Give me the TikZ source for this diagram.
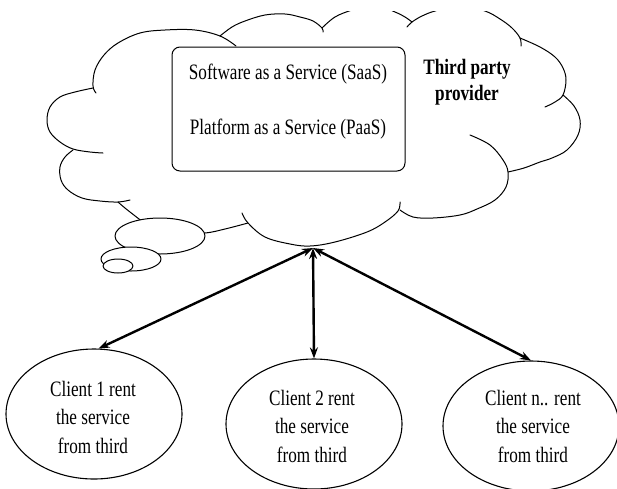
\documentclass[tikz,border=0pt]{standalone}
\usepackage{fontspec}
\setmainfont{Liberation Serif}[FakeStretch=0.78]
\usetikzlibrary{shapes.geometric,arrows.meta}

\begin{document}
\begin{tikzpicture}[x=1pt,y=-1pt,
  outline/.style={line width=1pt, line join=round, line cap=round},
  lobe/.style={outline},
  txt/.style={font=\fontsize{22}{27}\selectfont, inner sep=0pt},
  svcbox/.style={draw, line width=1pt, rounded corners=8pt, fill=white,
    minimum width=233pt, minimum height=124pt, inner sep=0pt},
  client/.style={draw, ellipse, line width=1.1pt, minimum width=176pt,
    minimum height=130pt, inner sep=0pt},
  clienttext/.style={align=center, inner sep=0pt,
    font=\fontsize{22}{28.5}\selectfont},
  link/.style={line width=2.4pt,
    {Stealth[length=11pt,width=8pt]}-{Stealth[length=11pt,width=8pt]}}]

\clip (0,0) rectangle (617,488);

% cloud outline, lobe by lobe
\begin{scope}
\clip (0,11.5) rectangle (617,488);
\draw[lobe] plot[smooth, tension=0.6] coordinates {(96,93) (93,86) (95,70) (104,55) (118,43) (140,33) (165,30) (195,30) (220,36) (236,46)};
\draw[lobe] plot[smooth, tension=0.6] coordinates {(220,36) (232,27) (245,21) (265,15) (285,14) (300,17) (313,21) (322,28) (323,32)};
\draw[lobe] plot[smooth, tension=0.6] coordinates {(322,28) (335,17) (352,10) (373,4) (395,12) (405,17) (412,22)};
\draw[lobe] plot[smooth, tension=0.6] coordinates {(407,27) (412,22) (422,16) (435,11) (460,5) (485,11) (500,19) (512,28) (520,38) (521,46)};
\draw[lobe] plot[smooth, tension=0.6] coordinates {(520,38) (540,47) (555,57) (563,68) (566,80) (563,95) (555,102) (545,107)};
\draw[lobe] plot[smooth, tension=0.6] coordinates {(563,95) (574,106) (580,120) (578,135) (567,150) (552,158) (540,162) (524,168) (508,172)};
\draw[lobe] plot[smooth, tension=0.6] coordinates {(470,135) (490,145) (503,160) (508,172) (506,187) (495,200) (477,209) (460,215) (433,218) (413,217) (400,210)};
\draw[lobe] plot[smooth, tension=0.6] coordinates {(242,213) (248,223) (265,237) (290,244) (310,246) (335,242) (367,232) (385,222) (398,211) (400,202)};
\draw[lobe] plot[smooth, tension=0.6] coordinates {(248,223) (225,229) (205,233) (175,234) (150,226) (130,212) (118,202)};
\draw[lobe] plot[smooth, tension=0.6] coordinates {(130,200) (118,202) (100,201) (82,198) (68,190) (61,180) (60,167) (65,157) (73,150)};
\draw[lobe] plot[smooth, tension=0.6] coordinates {(93,88) (75,92) (60,97) (50,107) (47,120) (50,132) (60,142) (73,149) (90,152) (103,153)};
\end{scope}

% trailing bubbles of the cloud
\draw[outline, fill=white] (160,236) ellipse [x radius=45, y radius=18];
\draw[outline, fill=white] (131,259) ellipse [x radius=30, y radius=12];
\draw[outline, fill=white] (118,266) ellipse [x radius=15, y radius=7];

% services offered by the provider
\node[svcbox] (svc) at (288.5,109) {};
\node[txt, anchor=base] (saas) at (288,79) {Software as a Service (SaaS)};
\node[txt, anchor=base] (paas) at (288,134) {Platform as a Service (PaaS)};

\node[txt, anchor=base, font=\fontsize{22}{26}\selectfont\bfseries] (prov1) at (467,74) {Third party};
\node[txt, anchor=base, font=\fontsize{22}{26}\selectfont\bfseries] (prov2) at (467,100) {provider};

% clients
\node[client] (c1) at (94,414) {};
\node[client] (c2) at (314,424) {};
\node[client] (c3) at (531,426) {};
\node[clienttext] (t1) at (93,417) {Client 1 rent\\the service\\from third};
\node[clienttext] (t2) at (312,426) {Client 2 rent\\the service\\from third};
\node[clienttext] (t3) at (533,426) {Client n.. rent\\the service\\from third};

% links between provider and clients
\coordinate (hub) at (313,248);
\draw[link] (hub) -- (c1.86);
\draw[link] (hub) -- (c2.north);
\draw[link] (hub) -- (c3.north);
\end{tikzpicture}
\end{document}
